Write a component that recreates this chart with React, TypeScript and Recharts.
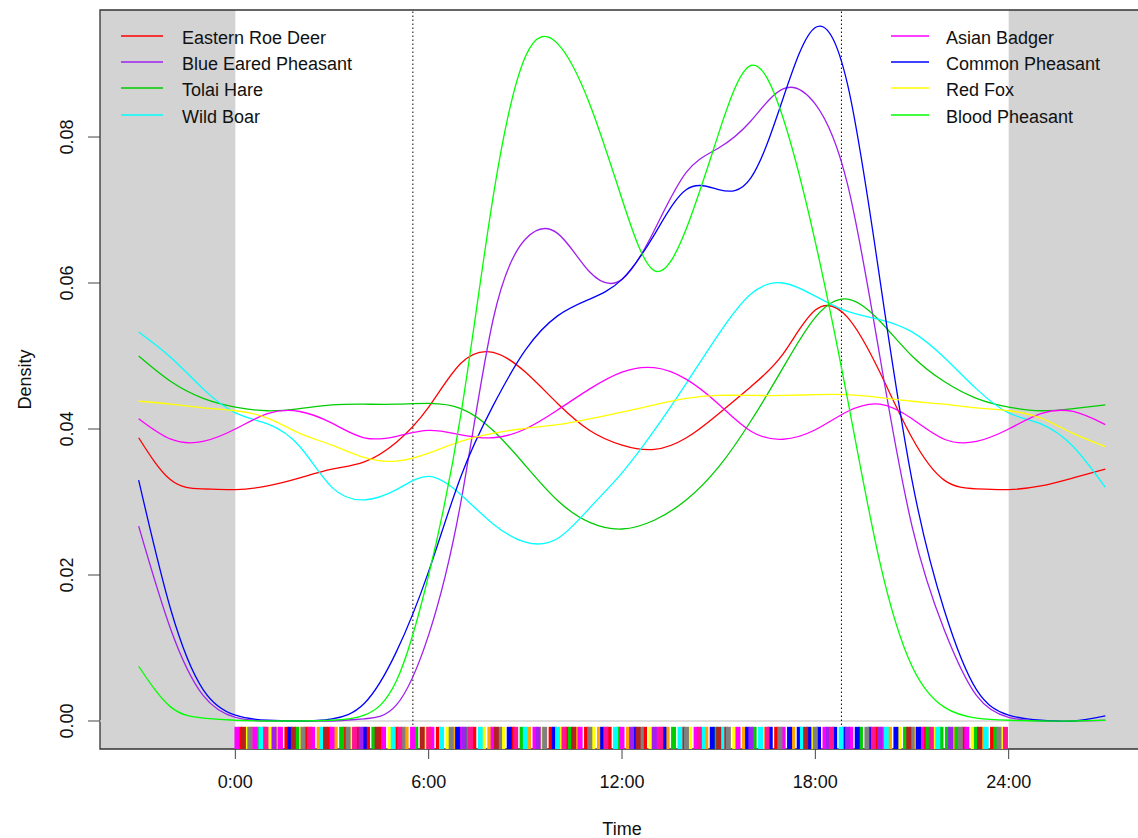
import React from 'react';
import { ComposedChart, Line, Scatter, XAxis, YAxis, ReferenceArea, ReferenceLine } from 'recharts';

// hours, extended past midnight on both sides like the overlap plot
const TIMES = [-3, -2, -1, 0, 1, 2, 3, 4, 5, 6, 7, 8, 9, 10, 11, 12, 13, 14, 15, 16, 17, 18, 19, 20, 21, 22, 23, 24, 25, 26, 27];

const ROE_DEER = [0.0388, 0.0330, 0.0318, 0.0317, 0.0322, 0.0333, 0.0345, 0.0355, 0.0382, 0.0430, 0.0490, 0.0505, 0.0478, 0.0435, 0.0398, 0.0378, 0.0372, 0.0388, 0.0421, 0.0458, 0.0503, 0.0563, 0.0553, 0.0478, 0.0388, 0.0330, 0.0318, 0.0317, 0.0322, 0.0333, 0.0345];
const BLUE_EARED = [0.0267, 0.0125, 0.0035, 0.0005, 0, 0, 0, 0.0003, 0.0022, 0.0118, 0.0300, 0.0550, 0.0660, 0.0668, 0.0615, 0.0605, 0.0672, 0.0752, 0.0785, 0.0822, 0.0866, 0.0845, 0.0735, 0.0500, 0.0267, 0.0125, 0.0035, 0.0005, 0, 0, 0.0001];
const TOLAI_HARE = [0.0500, 0.0465, 0.0442, 0.0430, 0.0425, 0.0428, 0.0433, 0.0434, 0.0434, 0.0435, 0.0428, 0.0398, 0.0350, 0.0302, 0.0272, 0.0263, 0.0275, 0.0303, 0.0348, 0.0411, 0.0484, 0.0553, 0.0578, 0.0548, 0.0500, 0.0465, 0.0442, 0.0430, 0.0425, 0.0428, 0.0433];
const WILD_BOAR = [0.0533, 0.0498, 0.0455, 0.0422, 0.0407, 0.0376, 0.0320, 0.0303, 0.0317, 0.0335, 0.0310, 0.0270, 0.0245, 0.0250, 0.0292, 0.0340, 0.0398, 0.0463, 0.0530, 0.0585, 0.0600, 0.0582, 0.0561, 0.0550, 0.0533, 0.0498, 0.0455, 0.0422, 0.0407, 0.0376, 0.0320];
const ASIAN_BADGER = [0.0414, 0.0386, 0.0383, 0.0400, 0.0421, 0.0424, 0.0408, 0.0388, 0.0390, 0.0398, 0.0392, 0.0388, 0.0400, 0.0426, 0.0455, 0.0478, 0.0484, 0.0468, 0.0434, 0.0397, 0.0386, 0.0399, 0.0424, 0.0434, 0.0414, 0.0386, 0.0383, 0.0400, 0.0421, 0.0424, 0.0406];
const COMMON_PHEASANT = [0.0330, 0.0152, 0.0043, 0.0008, 0.0001, 0, 0.0003, 0.0024, 0.0095, 0.0205, 0.0335, 0.0432, 0.0508, 0.0555, 0.0578, 0.0605, 0.0666, 0.0728, 0.0728, 0.0744, 0.0853, 0.0950, 0.0872, 0.0606, 0.0330, 0.0152, 0.0043, 0.0008, 0.0001, 0, 0.0007];
const RED_FOX = [0.0438, 0.0434, 0.0429, 0.0425, 0.0415, 0.0394, 0.0378, 0.0361, 0.0356, 0.0367, 0.0383, 0.0394, 0.0401, 0.0406, 0.0414, 0.0423, 0.0433, 0.0442, 0.0446, 0.0446, 0.0446, 0.0447, 0.0447, 0.0443, 0.0438, 0.0434, 0.0429, 0.0425, 0.0415, 0.0394, 0.0376];
const BLOOD_PHEASANT = [0.0075, 0.0019, 0.0004, 0.0001, 0, 0, 0.0001, 0.0008, 0.0055, 0.0200, 0.0420, 0.0718, 0.0910, 0.0928, 0.0845, 0.0715, 0.0617, 0.0675, 0.0805, 0.0898, 0.0826, 0.0656, 0.0441, 0.0218, 0.0075, 0.0019, 0.0004, 0.0001, 0, 0, 0.0001];

const SPECIES = [
  { key: 'roeDeer', name: 'Eastern Roe Deer', color: '#FF0000', values: ROE_DEER },
  { key: 'blueEared', name: 'Blue Eared Pheasant', color: '#A020F0', values: BLUE_EARED },
  { key: 'tolai', name: 'Tolai Hare', color: '#00CD00', values: TOLAI_HARE },
  { key: 'boar', name: 'Wild Boar', color: '#00FFFF', values: WILD_BOAR },
  { key: 'badger', name: 'Asian Badger', color: '#FF00FF', values: ASIAN_BADGER },
  { key: 'common', name: 'Common Pheasant', color: '#0000FF', values: COMMON_PHEASANT },
  { key: 'fox', name: 'Red Fox', color: '#FFFF00', values: RED_FOX },
  { key: 'blood', name: 'Blood Pheasant', color: '#00FF00', values: BLOOD_PHEASANT },
];

const X_TICKS = [0, 6, 12, 18, 24];
const Y_TICKS = [0, 0.02, 0.04, 0.06, 0.08];
const SUNRISE = 5.51;
const SUNSET = 18.81;

// rug of raw detection times, grouped by tick colour
const RUG = [
  { color: '#FF0000', times: [0.15, 0.9, 1.6, 2.2, 2.9, 3.4, 3.8, 4.1, 4.5, 5.0, 6.3, 7.4, 8.6, 9.8, 10.3, 10.9, 11.6, 12.7, 13.9, 15.2, 16.8, 19.9, 21.4, 22.6, 23.5] },
  { color: '#FFA500', times: [0.5, 1.3, 2.6, 3.1, 5.3, 6.8, 7.9, 9.1, 10.6, 11.3, 12.2, 13.4, 14.6, 15.8, 17.3, 20.3, 21.1, 22.3, 23.2] },
  { color: '#FFFF00', times: [0.35, 1.1, 2.0, 3.6, 4.8, 5.9, 6.6, 7.7, 8.3, 9.5, 10.1, 11.1, 12.9, 14.1, 15.5, 16.4, 17.9, 20.6, 21.7, 22.9, 23.8] },
  { color: '#00CD00', times: [0.7, 1.9, 3.3, 4.3, 5.6, 7.2, 8.9, 10.4, 11.9, 13.6, 14.9, 16.1, 19.4, 20.8, 21.5, 21.9, 22.1, 22.4, 23.0, 23.6] },
  { color: '#FF00FF', times: [0.05, 0.6, 1.4, 2.4, 3.0, 4.6, 5.5, 6.1, 7.0, 8.0, 9.3, 10.7, 12.0, 13.1, 14.3, 15.6, 17.0, 18.3, 19.1, 20.1, 21.3, 22.7] },
  { color: '#0000FF', times: [1.7, 4.0, 6.9, 8.5, 9.9, 11.4, 12.4, 13.3, 14.8, 15.9, 16.6, 17.2, 17.5, 17.8, 18.1, 18.6, 18.9, 19.3, 19.7, 20.5, 21.2] },
  { color: '#00FFFF', times: [0.8, 2.7, 4.9, 6.4, 7.6, 9.0, 10.0, 11.8, 13.8, 14.5, 15.1, 16.3, 17.6, 18.8, 20.2, 21.8, 23.3] },
  { color: '#808080', times: [0.45, 2.1, 3.5, 5.2, 6.7, 8.2, 9.6, 11.0, 12.6, 14.0, 15.3, 16.9, 18.0, 19.6, 21.0, 22.5, 23.7] },
  { color: '#A020F0', times: [1.2, 3.9, 7.1, 9.4, 12.3, 13.0, 16.0, 18.4, 19.0, 20.0, 22.2] },
  { color: '#B22222', times: [0.25, 1.8, 2.8, 4.4, 5.8, 8.1, 10.5, 12.5, 15.0, 17.7, 20.9, 23.1] },
  { color: '#FF1493', times: [0.95, 2.3, 3.7, 5.1, 6.0, 7.3, 8.7, 10.2, 11.5, 13.2, 14.4, 16.5, 18.5, 19.8, 21.6, 23.9] },
];

const X_MIN = -4.2;
const X_MAX = 28.2;
const Y_MIN = -0.003836;
const Y_MAX = 0.0974;
const RUG_TOP = Y_MIN + 0.03 * (Y_MAX - Y_MIN);

const FONT = '"Liberation Sans", Arial, sans-serif';

const data = TIMES.map((t, i) => {
  const row: any = { t };
  SPECIES.forEach((s) => { row[s.key] = s.values[i]; });
  return row;
});

const rugPoints = RUG.flatMap((g) => g.times.map((t) => ({ t, rug: RUG_TOP, color: g.color })));

const RugTick = ({ cx, cy, payload }: any) => (
  <rect x={cx - 2.5} y={cy} width={5} height={23} fill={payload.color} />
);

const YTick = ({ x, y, payload }: any) => {
  const bx = x - 13;
  return (
    <text x={bx} y={y} transform={`rotate(-90, ${bx}, ${y})`} textAnchor="middle"
      fontSize={18} fontFamily={FONT} fill="#111">
      {payload.value.toFixed(2)}
    </text>
  );
};

const YTitle = ({ viewBox }: any) => {
  const cy = viewBox.y + viewBox.height / 2;
  return (
    <text x={31} y={cy} transform={`rotate(-90, 31, ${cy})`} textAnchor="middle"
      fontSize={18} fontFamily={FONT} fill="#111">Density</text>
  );
};

const XTitle = ({ viewBox }: any) => (
  <text x={viewBox.x + viewBox.width / 2} y={835} textAnchor="middle"
    fontSize={18} fontFamily={FONT} fill="#111">Time</text>
);

const LegendColumn = ({ items, lineLeft, lineWidth, textLeft }: any) => (
  <>
    {items.map((s: any, i: number) => (
      <React.Fragment key={s.key}>
        <svg style={{ position: 'absolute', left: lineLeft, top: Math.round(31 + i * 26.2), overflow: 'visible' }}
          width={lineWidth} height={10}>
          <line x1={0} y1={5} x2={lineWidth} y2={5} stroke={s.color} strokeWidth={1.5} />
        </svg>
        <div style={{ position: 'absolute', left: textLeft, top: Math.round(27 + i * 26.2), fontSize: 18, lineHeight: '22px', fontFamily: FONT, color: '#111', whiteSpace: 'nowrap' }}>
          {s.name}
        </div>
      </React.Fragment>
    ))}
  </>
);

export default function App() {
  return (
    <div style={{ position: 'absolute', left: 0, top: 0, width: 1138, height: 838, overflow: 'hidden', background: '#fff' }}>
      <ComposedChart width={1144} height={838} data={data} margin={{ top: 10, right: 0, bottom: 0, left: 0 }}>
        <XAxis dataKey="t" type="number" domain={[X_MIN, X_MAX]} allowDataOverflow ticks={X_TICKS}
          tickFormatter={(v) => `${v}:00`} axisLine={false} tickSize={10} tickMargin={16} height={89}
          tickLine={{ stroke: '#444' }} tick={{ fontSize: 18, fontFamily: FONT, fill: '#111' }}
          label={<XTitle />} />
        <YAxis type="number" domain={[Y_MIN, Y_MAX]} allowDataOverflow ticks={Y_TICKS} width={100}
          axisLine={false} tickSize={12} tickLine={{ stroke: '#444' }} tick={<YTick />}
          label={<YTitle />} />
        <ReferenceArea x1={X_MIN} x2={0} y1={Y_MIN} y2={Y_MAX} fill="#D3D3D3" fillOpacity={1} stroke="none" />
        <ReferenceArea x1={24} x2={X_MAX} y1={Y_MIN} y2={Y_MAX} fill="#D3D3D3" fillOpacity={1} stroke="none" />
        <ReferenceLine y={0} stroke="#D3D3D3" strokeWidth={1.5} />
        <ReferenceLine x={SUNRISE} stroke="#000" strokeDasharray="1.5 2.5" />
        <ReferenceLine x={SUNSET} stroke="#000" strokeDasharray="1.5 2.5" />
        {SPECIES.map((s) => (
          <Line key={s.key} dataKey={s.key} type="natural" stroke={s.color} strokeWidth={1.3}
            dot={false} activeDot={false} isAnimationActive={false} />
        ))}
        <Scatter data={rugPoints} dataKey="rug" shape={<RugTick />} isAnimationActive={false} />
        <ReferenceArea x1={X_MIN} x2={X_MAX} y1={Y_MIN} y2={Y_MAX} fill="none" stroke="#333" strokeWidth={1.3} />
      </ComposedChart>
      <LegendColumn items={SPECIES.slice(0, 4)} lineLeft={121} lineWidth={42} textLeft={182} />
      <LegendColumn items={SPECIES.slice(4)} lineLeft={891} lineWidth={38} textLeft={946} />
    </div>
  );
}
